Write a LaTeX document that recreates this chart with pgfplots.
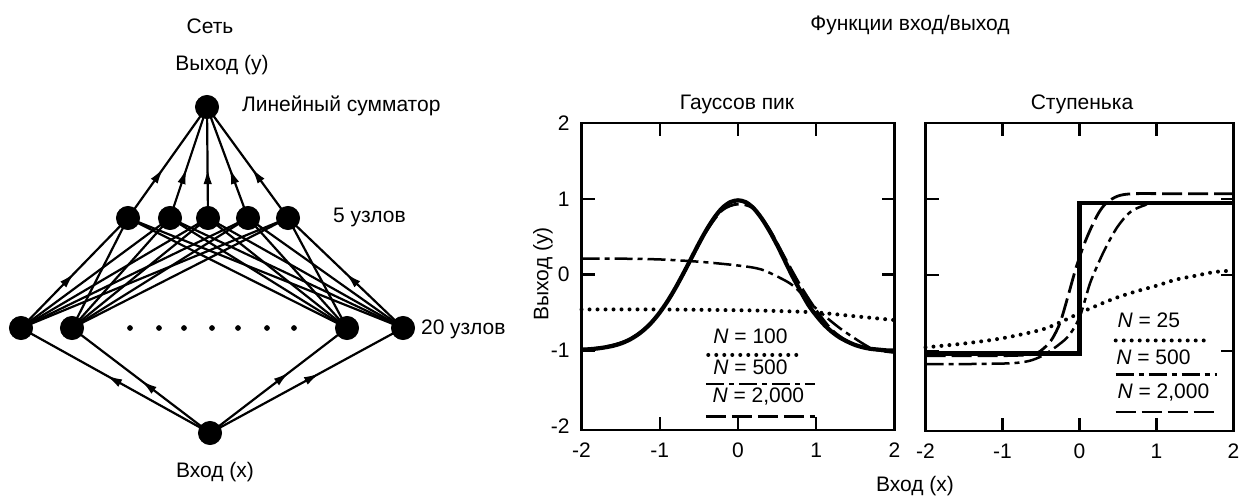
\documentclass[border=0pt]{standalone}
\usepackage{pgfplots}
\pgfplotsset{compat=1.18}
\usepackage{fontspec}
\setmainfont{Liberation Sans}
\usetikzlibrary{decorations.markings,arrows.meta}

\tikzset{
  midarrow/.style={postaction={decorate},decoration={markings,mark=at position #1 with {\arrow{Latex[length=8pt,width=4.2pt]}}}},
  edge/.style={black, line width=1.1pt},
}
\pgfplotsset{
  fplot/.style={
    scale only axis, anchor=south west,
    xmin=-2, xmax=2, ymin=-2.05, ymax=2,
    axis line style={line width=1.1pt},
    tick style={black, line width=1.1pt},
    major tick length=6.5pt,
    xtick={-1,0,1}, ytick={-1,0,1},
    xtick pos=both, ytick pos=both,
    xticklabel pos=lower, yticklabel pos=left,
    xticklabels={{-1},{0},{1}},
    extra x ticks={-2,2}, extra x tick labels={{-2},{2}},
    extra x tick style={major tick length=0pt},
    ticklabel style={font=\fontsize{10.5}{12}\selectfont},
    xticklabel style={yshift=-3pt},
    yticklabel style={xshift=-2.5pt},
    clip=false,
  },
  solidc/.style={black, line width=2.1pt},
  ldash/.style={black, line width=1.4pt, dash pattern=on 10pt off 3pt},
  ddot/.style={black, line width=1.25pt, dash pattern=on 9pt off 2.5pt on 2.5pt off 2.5pt},
  dotc/.style={black, line width=2pt, line cap=round, dash pattern=on 0pt off 4pt},
}

\begin{document}
\begin{tikzpicture}
% ---------- network diagram and overall labels (pixel coordinates) ----------
\begin{axis}[at={(0,0)}, anchor=south west, scale only axis,
  width=620pt, height=248.5pt,
  xmin=0, xmax=1240, ymin=0, ymax=497, y dir=reverse,
  hide axis, clip=false]
% hidden -> output
\addplot[edge, midarrow=0.45] coordinates {(128,218) (207,107)};
\addplot[edge, midarrow=0.45] coordinates {(170,218) (207,107)};
\addplot[edge, midarrow=0.45] coordinates {(208,218) (207,107)};
\addplot[edge, midarrow=0.45] coordinates {(248,218) (207,107)};
\addplot[edge, midarrow=0.45] coordinates {(288,218) (207,107)};
% input layer -> hidden
\addplot[edge, midarrow=0.5] coordinates {(21,328) (128,218)};
\addplot[edge] coordinates {(21,328) (170,218)};
\addplot[edge] coordinates {(21,328) (208,218)};
\addplot[edge] coordinates {(21,328) (248,218)};
\addplot[edge] coordinates {(21,328) (288,218)};
\addplot[edge] coordinates {(72,328) (128,218)};
\addplot[edge] coordinates {(72,328) (170,218)};
\addplot[edge] coordinates {(72,328) (208,218)};
\addplot[edge] coordinates {(72,328) (248,218)};
\addplot[edge] coordinates {(72,328) (288,218)};
\addplot[edge] coordinates {(347,328) (128,218)};
\addplot[edge] coordinates {(347,328) (170,218)};
\addplot[edge] coordinates {(347,328) (208,218)};
\addplot[edge] coordinates {(347,328) (248,218)};
\addplot[edge] coordinates {(347,328) (288,218)};
\addplot[edge] coordinates {(403,328) (128,218)};
\addplot[edge] coordinates {(403,328) (170,218)};
\addplot[edge] coordinates {(403,328) (208,218)};
\addplot[edge] coordinates {(403,328) (248,218)};
\addplot[edge, midarrow=0.5] coordinates {(403,328) (288,218)};
% input -> input layer
\addplot[edge, midarrow=0.55] coordinates {(210,433) (21,328)};
\addplot[edge, midarrow=0.5] coordinates {(210,433) (72,328)};
\addplot[edge, midarrow=0.58] coordinates {(210,433) (347,328)};
\addplot[edge, midarrow=0.57] coordinates {(210,433) (403,328)};
% nodes
\addplot[only marks, mark=*, mark size=5.8pt, black] coordinates {
  (207,107) (128,218) (170,218) (208,218) (248,218) (288,218)
  (21,328) (72,328) (347,328) (403,328) (210,433)};
\addplot[only marks, mark=*, mark size=1.2pt, black] coordinates {
  (130,328) (159,328) (184,328) (212,328) (238,328) (267,328) (294,328)};
% texts
\node[font=\fontsize{10.5}{12}\selectfont] at (axis cs:210,26) {Сеть};
\node[font=\fontsize{10.5}{12}\selectfont] at (axis cs:222,65) {Выход (y)};
\node[font=\fontsize{10.5}{12}\selectfont, anchor=west] at (axis cs:235,106) {Линейный сумматор};
\node[font=\fontsize{10.5}{12}\selectfont, anchor=west] at (axis cs:326,217) {5 узлов};
\node[font=\fontsize{10.5}{12}\selectfont, anchor=west] at (axis cs:414,329) {20 узлов};
\node[font=\fontsize{10.5}{12}\selectfont] at (axis cs:215,472) {Вход (x)};
\node[font=\fontsize{10.5}{12}\selectfont] at (axis cs:910,25) {Функции вход/выход};
\node[font=\fontsize{10.5}{12}\selectfont] at (axis cs:737,104) {Гауссов пик};
\node[font=\fontsize{10.5}{12}\selectfont] at (axis cs:1082,104) {Ступенька};
\node[font=\fontsize{10.5}{12}\selectfont] at (axis cs:915,486) {Вход (x)};
\node[font=\fontsize{10.5}{12}\selectfont, rotate=90] at (axis cs:543,274) {Выход (y)};
\end{axis}

% ---------- Gaussian peak ----------
\begin{axis}[fplot, at={(290.75pt,33.5pt)}, width=156.5pt, height=153.5pt,
  yticklabels={{-1},{0},{1}},
  extra y ticks={-2,2}, extra y tick labels={{-2},{2}},
  extra y tick style={major tick length=0pt}]
\addplot[solidc, smooth] coordinates {
 (-2,-0.99) (-1.9,-0.985) (-1.8,-0.975) (-1.7,-0.96) (-1.6,-0.94) (-1.5,-0.91)
 (-1.4,-0.866) (-1.3,-0.806) (-1.2,-0.727) (-1.1,-0.626) (-1.0,-0.5)
 (-0.9,-0.35) (-0.8,-0.178) (-0.7,0.012) (-0.6,0.21) (-0.5,0.41)
 (-0.4,0.595) (-0.3,0.755) (-0.2,0.88) (-0.1,0.955) (0,0.98)
 (0.1,0.955) (0.2,0.875) (0.3,0.745) (0.4,0.58) (0.5,0.39) (0.6,0.18)
 (0.7,-0.03) (0.8,-0.22) (0.9,-0.4) (1.0,-0.54) (1.1,-0.66) (1.2,-0.755)
 (1.3,-0.83) (1.4,-0.885) (1.5,-0.93) (1.6,-0.96) (1.7,-0.98) (1.8,-0.99)
 (1.9,-1.0) (2,-1.0)};
\addplot[ldash, smooth] coordinates {
 (-2,-0.99) (-1.8,-0.97) (-1.6,-0.93) (-1.4,-0.86) (-1.2,-0.72) (-1.0,-0.5)
 (-0.8,-0.18) (-0.6,0.2) (-0.4,0.58) (-0.2,0.85) (0,0.93) (0.2,0.87)
 (0.4,0.6) (0.6,0.22) (0.8,-0.15) (1.0,-0.47) (1.2,-0.73) (1.4,-0.88)
 (1.6,-0.96) (1.8,-1.0) (2,-1.01)};
\addplot[ddot, smooth] coordinates {
 (-2,0.21) (-1.5,0.21) (-1,0.2) (-0.5,0.17) (0,0.12) (0.29,0.07) (0.55,-0.05)
 (0.72,-0.16) (0.97,-0.42) (1.28,-0.69) (1.58,-0.9) (1.75,-0.99) (2,-1.03)};
\addplot[dotc, smooth] coordinates {
 (-2,-0.46) (-1,-0.46) (0,-0.47) (0.5,-0.48) (1,-0.5) (1.5,-0.55) (2,-0.6)};
% legend
\node[font=\fontsize{10.5}{12}\selectfont] at (axis cs:0.16,-0.82) {\textit{N} = 100};
\addplot[dotc] coordinates {(-0.38,-1.06) (0.84,-1.06)};
\node[font=\fontsize{10.5}{12}\selectfont] at (axis cs:0.16,-1.22) {\textit{N} = 500};
\addplot[ddot] coordinates {(-0.41,-1.44) (0.98,-1.44)};
\node[font=\fontsize{10.5}{12}\selectfont] at (axis cs:0.26,-1.61) {\textit{N} = 2,000};
\addplot[ldash] coordinates {(-0.41,-1.87) (0.98,-1.87)};
\end{axis}

% ---------- Step ----------
\begin{axis}[fplot, at={(462.75pt,33pt)}, width=154pt, height=154pt,
  yticklabels={}]
\addplot[solidc] coordinates {(-2,-1.03) (0,-1.03) (0,0.95) (2,0.95)};
\addplot[ldash, smooth] coordinates {
 (-2,-1.06) (-1.5,-1.06) (-1,-1.06) (-0.6,-1.04) (-0.45,-0.95) (-0.35,-0.83)
 (-0.25,-0.62) (-0.15,-0.28) (-0.05,0.08) (0.05,0.38) (0.15,0.62) (0.25,0.82)
 (0.35,0.95) (0.5,1.04) (0.7,1.07) (1.2,1.07) (2,1.07)};
\addplot[ddot, smooth] coordinates {
 (-2,-1.17) (-1.5,-1.17) (-0.9,-1.16) (-0.66,-1.13) (-0.5,-1.07) (-0.37,-0.99)
 (-0.25,-0.9) (-0.15,-0.81) (-0.05,-0.66) (0.02,-0.5) (0.08,-0.3) (0.15,-0.07)
 (0.32,0.32) (0.49,0.63) (0.66,0.83) (0.85,0.92) (1.0,0.95) (2,0.95)};
\addplot[dotc, smooth] coordinates {
 (-2,-0.95) (-1.5,-0.9) (-1,-0.83) (-0.5,-0.72) (-0.25,-0.62) (0,-0.5)
 (0.25,-0.39) (0.5,-0.29) (0.75,-0.21) (1,-0.14) (1.25,-0.06) (1.5,-0.01)
 (1.75,0.04) (2,0.06)};
% legend
\node[font=\fontsize{10.5}{12}\selectfont] at (axis cs:0.9,-0.6) {\textit{N} = 25};
\addplot[dotc] coordinates {(0.47,-0.86) (1.71,-0.86)};
\node[font=\fontsize{10.5}{12}\selectfont] at (axis cs:0.96,-1.08) {\textit{N} = 500};
\addplot[ddot] coordinates {(0.47,-1.31) (1.78,-1.31)};
\node[font=\fontsize{10.5}{12}\selectfont] at (axis cs:1.09,-1.54) {\textit{N} = 2,000};
\addplot[ldash] coordinates {(0.47,-1.8) (1.8,-1.8)};
\end{axis}
\pgfresetboundingbox
\useasboundingbox (0,0) rectangle (620pt,248.5pt);
\end{tikzpicture}
\end{document}
